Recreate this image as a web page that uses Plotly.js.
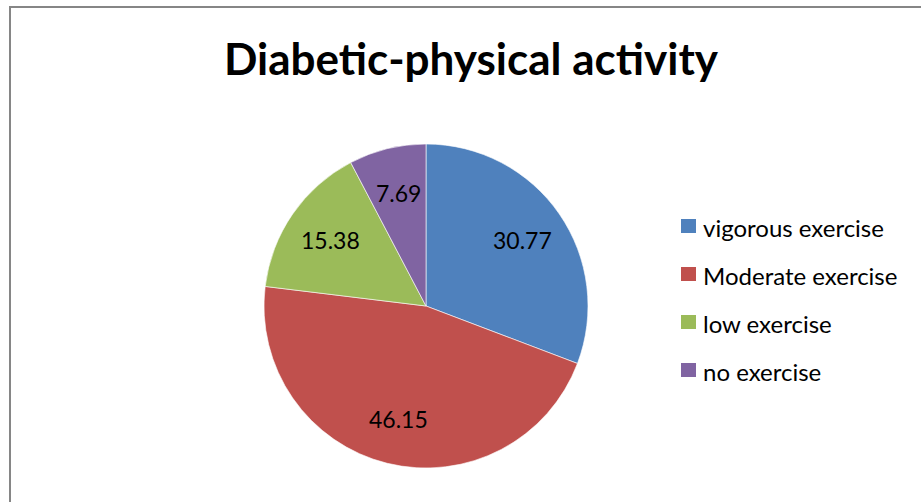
<!DOCTYPE html>
<html>
<head>
<meta charset="utf-8">
<script src="https://cdn.plot.ly/plotly-3.0.1.min.js"></script>
<style>
html,body{margin:0;padding:0;background:#fff;}
#chart{width:921px;height:502px;}
</style>
</head>
<body>
<div id="chart"></div>
<script>
const categories = ["vigorous exercise", "Moderate exercise", "low exercise", "no exercise"];
const values = [30.77, 46.15, 15.38, 7.69];
const colors = ["#4F81BD", "#C0504D", "#9BBB59", "#8064A2"];
const titleText = "Diabetic-physical activity";

const W = 921, H = 502;
const px = x => x / W;
const py = y => 1 - y / H;
const FONT = "Lato, Carlito, Calibri, sans-serif";

// pie geometry (pixels)
const CX = 426, CY = 306, R = 162;

// legend drawn from the categories/colors arrays
const legShapes = [], legAnn = [];
const legX = 681, legY0 = 226, legStep = 48;
categories.forEach((c, i) => {
  const yc = legY0 + i * legStep;
  legShapes.push({type: "rect", xref: "paper", yref: "paper",
    x0: px(legX), x1: px(legX + 15), y0: py(yc + 7), y1: py(yc - 7),
    fillcolor: colors[i], line: {width: 0}});
  legAnn.push({xref: "paper", yref: "paper", x: px(legX + 20), y: py(yc + 1),
    xanchor: "left", yanchor: "middle", showarrow: false, text: c,
    font: {family: FONT, size: 24, color: "#000"}});
});

// data labels placed at each slice's mid-angle
const total = values.reduce((a, b) => a + b, 0);
const labAnn = [];
let cum = 0;
values.forEach((v, i) => {
  const mid = (cum + v / 2) / total * 2 * Math.PI;
  cum += v;
  const rr = 0.72 * R;
  const x = CX + rr * Math.sin(mid), y = CY - rr * Math.cos(mid);
  labAnn.push({xref: "paper", yref: "paper", x: px(x), y: py(y),
    xanchor: "center", yanchor: "middle", showarrow: false,
    text: v.toFixed(2), font: {family: FONT, size: 23, color: "#000"}});
});

const trace = {
  type: "pie",
  labels: categories,
  values: values,
  textinfo: "none",
  marker: {colors: colors, line: {color: "#ffffff", width: 0.6}},
  sort: false,
  direction: "clockwise",
  rotation: 0,
  hoverinfo: "label+value",
  showlegend: false,
  domain: {x: [px(CX - R), px(CX + R)], y: [py(CY + R), py(CY - R)]}
};

const layout = {
  width: W, height: H,
  margin: {l: 0, r: 0, t: 0, b: 0},
  paper_bgcolor: "#fff",
  showlegend: false,
  font: {family: FONT, color: "#000"},
  title: {text: "<b>" + titleText + "</b>", x: px(471), xanchor: "center",
    y: py(60), yanchor: "middle", yref: "paper",
    font: {family: FONT, size: 44, color: "#000"}},
  shapes: [{type: "rect", xref: "paper", yref: "paper",
    x0: px(10), x1: px(940), y0: py(520), y1: py(7),
    line: {color: "#868686", width: 2}, fillcolor: "rgba(0,0,0,0)"}].concat(legShapes),
  annotations: legAnn.concat(labAnn)
};

Plotly.newPlot("chart", [trace], layout, {displayModeBar: false, staticPlot: true});
</script>
</body>
</html>
